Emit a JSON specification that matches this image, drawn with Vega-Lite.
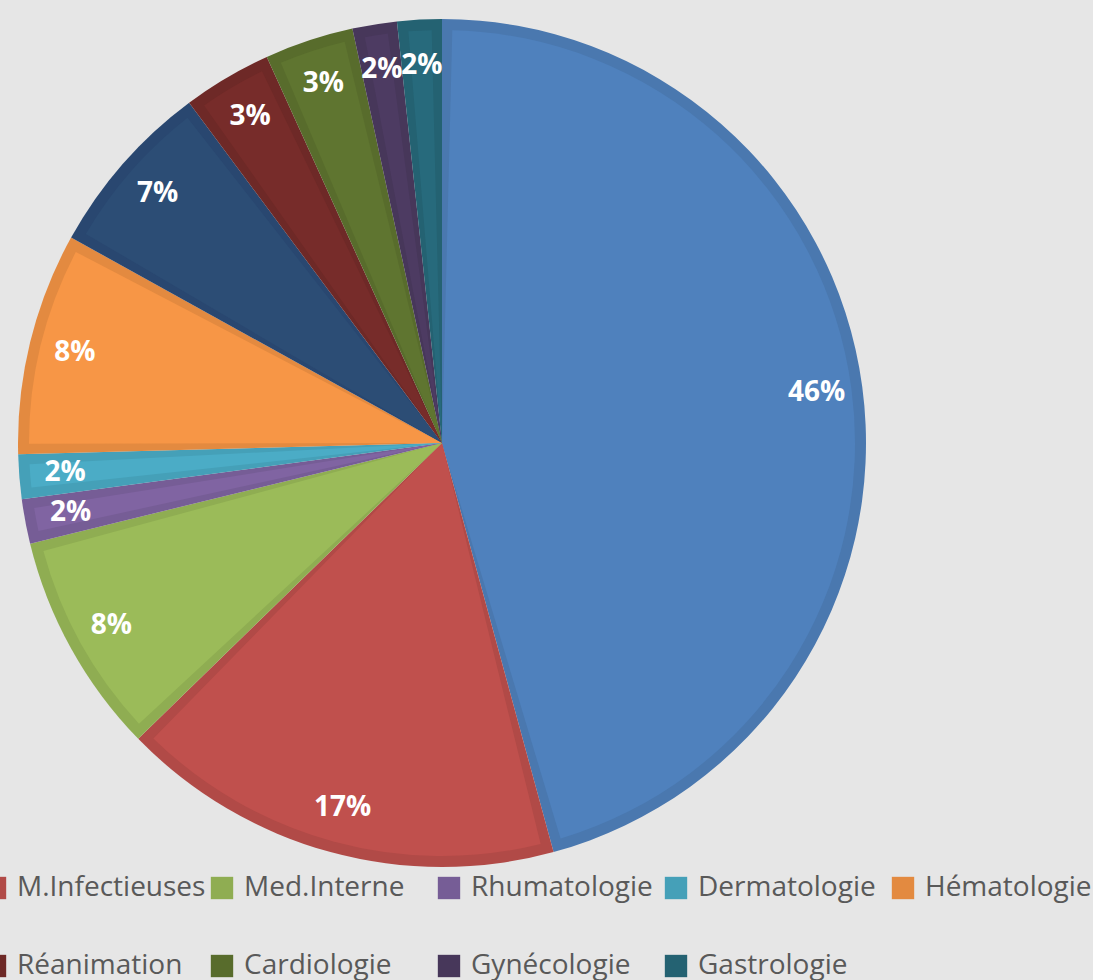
{
  "$schema": "https://vega.github.io/schema/vega-lite/v6.json",
  "autosize": "none",
  "width": 884,
  "height": 886,
  "padding": {"left": 0, "top": 0, "right": 209, "bottom": 94},
  "background": "#E6E6E6",
  "config": {"view": {"stroke": null}, "font": "Open Sans"},
  "data": {
    "values": [
      {"ord": 1, "service": "Catégorie 1", "count": 27, "label": "46%"},
      {"ord": 2, "service": "M.Infectieuses", "count": 10, "label": "17%"},
      {"ord": 3, "service": "Med.Interne", "count": 5, "label": "8%"},
      {"ord": 4, "service": "Rhumatologie", "count": 1, "label": "2%"},
      {"ord": 5, "service": "Dermatologie", "count": 1, "label": "2%"},
      {"ord": 6, "service": "Hématologie", "count": 5, "label": "8%"},
      {"ord": 7, "service": "Catégorie 7", "count": 4, "label": "7%"},
      {"ord": 8, "service": "Réanimation", "count": 2, "label": "3%"},
      {"ord": 9, "service": "Cardiologie", "count": 2, "label": "3%"},
      {"ord": 10, "service": "Gynécologie", "count": 1, "label": "2%"},
      {"ord": 11, "service": "Gastrologie", "count": 1, "label": "2%"}
    ]
  },
  "encoding": {
    "theta": {"field": "count", "type": "quantitative", "stack": true},
    "order": {"field": "ord", "type": "quantitative"}
  },
  "layer": [
    {
      "mark": {"type": "arc", "outerRadius": 424},
      "encoding": {
        "color": {
          "field": "service",
          "type": "nominal",
          "scale": {
            "domain": ["Catégorie 1", "M.Infectieuses", "Med.Interne", "Rhumatologie", "Dermatologie", "Hématologie", "Catégorie 7", "Réanimation", "Cardiologie", "Gynécologie", "Gastrologie"],
            "range": ["#4A78AF", "#B14A47", "#8FAD52", "#765D96", "#45A0B8", "#E38A40", "#294770", "#6E2927", "#586C2C", "#47375A", "#246272"]
          },
          "legend": {
            "values": ["M.Infectieuses", "Med.Interne", "Rhumatologie", "Dermatologie", "Hématologie", "Réanimation", "Cardiologie", "Gynécologie", "Gastrologie"],
            "title": null,
            "orient": "none",
            "legendX": -19,
            "legendY": 874,
            "direction": "horizontal",
            "columns": 5,
            "gridAlign": "all",
            "columnPadding": 2,
            "rowPadding": 50,
            "padding": 0,
            "symbolType": "square",
            "symbolSize": 500,
            "symbolStrokeWidth": 0,
            "labelOffset": 8,
            "labelFontSize": 28,
            "labelFont": "Open Sans",
            "labelColor": "#595959",
            "labelLimit": 400
          }
        }
      }
    },
    {
      "mark": {"type": "arc", "outerRadius": 413, "padAngle": 0.05},
      "encoding": {
        "fill": {
          "field": "service",
          "type": "nominal",
          "scale": {
            "domain": ["Catégorie 1", "M.Infectieuses", "Med.Interne", "Rhumatologie", "Dermatologie", "Hématologie", "Catégorie 7", "Réanimation", "Cardiologie", "Gynécologie", "Gastrologie"],
            "range": ["#4F81BD", "#C0504D", "#9BBB59", "#8064A2", "#4BACC6", "#F79646", "#2C4D75", "#772C2A", "#5F7530", "#4D3B62", "#276A7C"]
          },
          "legend": null
        }
      }
    },
    {
      "mark": {"type": "text", "radius": 378, "fontSize": 28, "fontWeight": "bold", "font": "Open Sans", "color": "white", "align": "center", "baseline": "middle"},
      "encoding": {
        "text": {"field": "label", "type": "nominal"}
      }
    }
  ]
}
